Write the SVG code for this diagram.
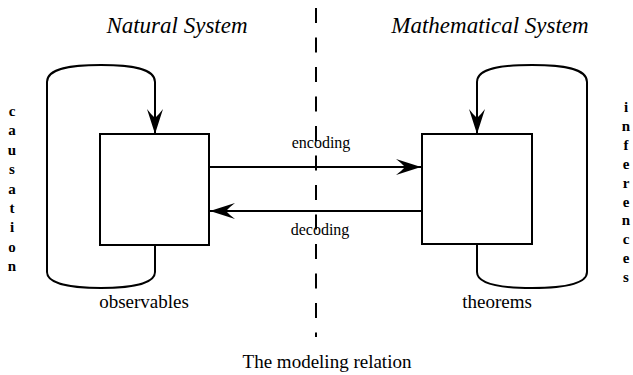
<svg xmlns="http://www.w3.org/2000/svg" width="633" height="375" viewBox="0 0 633 375">
  <style>
    .ln { fill: none; stroke: #000; stroke-width: 2; }
    .box { fill: #fff; stroke: #000; stroke-width: 2; }
    text { font-family: 'Liberation Serif', 'DejaVu Serif', serif; fill: #000; text-anchor: middle; }
    .title { font-style: italic; font-size: 23px; }
    .lbl { font-size: 19px; }
    .small { font-size: 16px; }
    .vert { font-size: 15px; font-weight: bold; }
  </style>
  <defs>
    <marker id="head" markerUnits="userSpaceOnUse" viewBox="0 0 26 17" markerWidth="26" markerHeight="17" refX="25" refY="8.5" orient="auto">
      <path d="M25,8.5 L0,0.5 Q6,5 9,8.5 Q6,12 0,16.5 Z" fill="#000"/>
    </marker>
  </defs>
  <rect width="633" height="375" fill="#fff"/>

  <g id="divider">
    <line x1="316" y1="8" x2="316" y2="337" stroke="#000" stroke-width="2" stroke-dasharray="15 14.5"/>
  </g>

  <g id="natural-system">
    <text class="title" x="177" y="33" font-family="Liberation Serif, serif">Natural System</text>
    <path class="ln" d="M155,245 L155,272 C155,284 130,288 101,288 C72,288 47,284 47,272 L47,82 C47,68 72,65 101,65 C130,65 155,68 155,82 L155,134" marker-end="url(#head)"/>
    <rect class="box" x="100" y="134" width="109" height="111"/>
    <text class="lbl" x="144" y="308" font-family="Liberation Serif, serif">observables</text>
    <g class="vert" font-family="Liberation Serif, serif">
      <text x="12" y="116">c</text>
      <text x="12" y="135.4">a</text>
      <text x="12" y="154.8">u</text>
      <text x="12" y="174.2">s</text>
      <text x="12" y="193.6">a</text>
      <text x="12" y="213">t</text>
      <text x="12" y="232.4">i</text>
      <text x="12" y="251.8">o</text>
      <text x="12" y="271.2">n</text>
    </g>
  </g>

  <g id="mathematical-system">
    <text class="title" x="490" y="33" font-family="Liberation Serif, serif">Mathematical System</text>
    <path class="ln" d="M477,244 L477,272 C477,284 502,288 532,288 C562,288 587,284 587,272 L587,82 C587,68 562,65 532,65 C502,65 477,68 477,82 L477,134" marker-end="url(#head)"/>
    <rect class="box" x="422" y="134" width="110" height="110"/>
    <text class="lbl" x="497" y="308" font-family="Liberation Serif, serif">theorems</text>
    <g class="vert" font-family="Liberation Serif, serif">
      <text x="626" y="112">i</text>
      <text x="626" y="130.9">n</text>
      <text x="626" y="149.8">f</text>
      <text x="626" y="168.7">e</text>
      <text x="626" y="187.6">r</text>
      <text x="626" y="206.5">e</text>
      <text x="626" y="225.4">n</text>
      <text x="626" y="244.3">c</text>
      <text x="626" y="263.2">e</text>
      <text x="626" y="282.1">s</text>
    </g>
  </g>

  <g id="connectors">
    <path class="ln" d="M209,167 L421,167" marker-end="url(#head)"/>
    <path class="ln" d="M422,211 L210,211" marker-end="url(#head)"/>
  </g>

  <g id="connector-labels" font-family="Liberation Serif, serif">
    <text class="small" x="321" y="148">encoding</text>
    <text class="small" x="320" y="235">decoding</text>
  </g>

  <g id="caption" font-family="Liberation Serif, serif">
    <text class="lbl" x="327" y="368">The modeling relation</text>
  </g>
</svg>
